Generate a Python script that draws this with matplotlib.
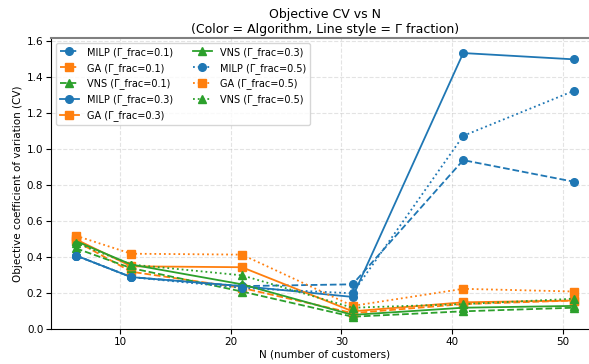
import matplotlib
matplotlib.use("Agg")
import matplotlib.pyplot as plt

N = [6, 11, 21, 31, 41, 51]
fracs = [0.1, 0.3, 0.5]
algos = ["MILP", "GA", "VNS"]

# CV values, per algorithm and Gamma fraction
milp_01 = [0.41, 0.29, 0.24, 0.25, 0.94, 0.82]
milp_03 = [0.41, 0.29, 0.24, 0.18, 1.535, 1.50]
milp_05 = [0.41, 0.29, 0.23, 0.20, 1.075, 1.325]
ga_01 = [0.49, 0.32, 0.23, 0.09, 0.14, 0.16]
ga_03 = [0.50, 0.35, 0.345, 0.10, 0.15, 0.16]
ga_05 = [0.52, 0.42, 0.415, 0.13, 0.225, 0.21]
vns_01 = [0.45, 0.34, 0.21, 0.07, 0.10, 0.12]
vns_03 = [0.49, 0.36, 0.25, 0.08, 0.12, 0.13]
vns_05 = [0.48, 0.36, 0.30, 0.12, 0.14, 0.17]

data = {
    ("MILP", 0.1): milp_01, ("MILP", 0.3): milp_03, ("MILP", 0.5): milp_05,
    ("GA", 0.1): ga_01, ("GA", 0.3): ga_03, ("GA", 0.5): ga_05,
    ("VNS", 0.1): vns_01, ("VNS", 0.3): vns_03, ("VNS", 0.5): vns_05,
}

colors = {"MILP": "#1f77b4", "GA": "#ff7f0e", "VNS": "#2ca02c"}
markers = {"MILP": "o", "GA": "s", "VNS": "^"}
styles = {0.1: "--", 0.3: "-", 0.5: ":"}

fig = plt.figure(figsize=(5.89, 3.64), dpi=100)
# axes run past the right edge, as in the reference
ax = fig.add_axes([0.0866, 0.0953, 0.930, 0.800])

for f in fracs:
    for a in algos:
        ax.plot(N, data[(a, f)], color=colors[a], marker=markers[a], ls=styles[f],
                lw=1.3, ms=5.5, label=f"{a} (\u0393_frac={f})")

ax.set_title("Objective CV vs N\n(Color = Algorithm, Line style = \u0393 fraction)", fontsize=9, pad=4)
ax.set_xlabel("N (number of customers)", fontsize=7.5, labelpad=1.5)
ax.set_ylabel("Objective coefficient of variation (CV)", fontsize=7.5, labelpad=3)
ax.tick_params(labelsize=7.5, pad=2)
ax.set_xlim(3.75, 53.25)
ax.set_ylim(0, 1.618)
ax.grid(True, ls="--", alpha=0.35)
ax.spines["top"].set_color("gray")
ax.spines["top"].set_linewidth(1.5)
ax.legend(ncol=2, fontsize=7, loc="upper left")

fig.savefig("out.png")
